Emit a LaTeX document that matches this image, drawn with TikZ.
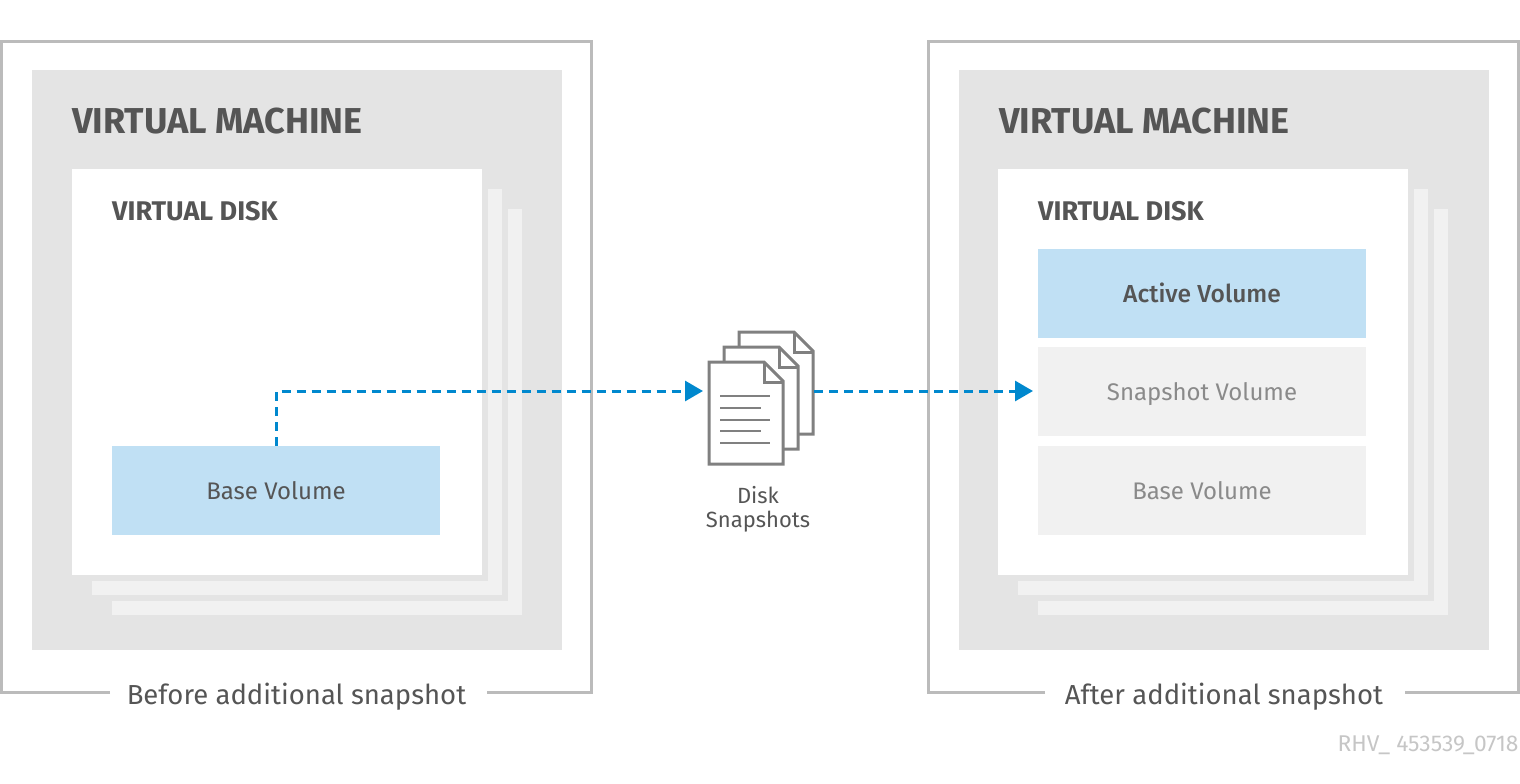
\documentclass[tikz,border=0pt]{standalone}
\usepackage{fontspec}
\setmainfont{Fira Sans}
\newfontfamily\mediumface{Fira Sans Medium}
\usetikzlibrary{arrows.meta}
\definecolor{framegray}{HTML}{BBBBBB}
\definecolor{vmgray}{HTML}{E4E4E4}
\definecolor{layergray}{HTML}{F1F1F1}
\definecolor{inkgray}{HTML}{555555}
\definecolor{fadedgray}{HTML}{8A8A8A}
\definecolor{icongray}{HTML}{808080}
\definecolor{stampgray}{HTML}{C6C6C6}
\definecolor{volblue}{HTML}{C0E0F4}
\definecolor{arrowblue}{HTML}{0088CE}
\begin{document}
\begin{tikzpicture}
[x=1pt,y=-1pt,
  framedecorate/.style={draw=framegray,line width=3pt},
  volumedecorate/.style={shape=rectangle,inner sep=0pt,outer sep=0pt,minimum width=328pt,minimum height=89pt,text height=18pt,text depth=0pt,text=inkgray,font=\fontsize{24}{28}\selectfont},
  activevolume/.style={volumedecorate,fill=volblue},
  oldvolume/.style={volumedecorate,fill=layergray,text=fadedgray},
  vmlabel/.style={anchor=west,inner sep=0pt,text=inkgray,font=\fontsize{36}{42}\selectfont\bfseries},
  disklabel/.style={anchor=west,inner sep=0pt,text=inkgray,font=\fontsize{27}{32}\selectfont\bfseries},
  captionlabel/.style={inner sep=0pt,text=inkgray,font=\fontsize{27.5}{32}\selectfont},
  icondecorate/.style={draw=icongray,line width=3pt,line join=miter},
  iconline/.style={draw=icongray,line width=2.2pt},
  arrowdecorate/.style={draw=arrowblue,line width=3pt,dash pattern=on 9pt off 6pt,shorten >=5pt,-{Triangle[length=18pt,width=20pt,sep=0pt]}}]
\useasboundingbox (0,0) rectangle (1520,784);
% left panel
\node (lcap) at (296.5,697) [captionlabel] {Before additional snapshot};
\draw[framedecorate] (110,692) -- (1.5,692) -- (1.5,42) -- (591.5,42) -- (591.5,692) -- (487,692);
\fill[vmgray] (32,70) rectangle (562,650);
\fill[layergray] (112,209) rectangle (522,615);
\fill[vmgray] (92,189) rectangle (508,601);
\fill[layergray] (92,189) rectangle (502,595);
\fill[vmgray] (72,169) rectangle (488,581);
\fill[white] (72,169) rectangle (482,575);
\node (lvm) at (72,121) [vmlabel] {VIRTUAL MACHINE};
\node (ldisk) at (112,211) [disklabel] {VIRTUAL DISK};
\node (lbase) at (276,490) [activevolume] {Base Volume};
% right panel
\node (rcap) at (1224,697) [captionlabel] {After additional snapshot};
\draw[framedecorate] (1045,692) -- (928.5,692) -- (928.5,42) -- (1518.5,42) -- (1518.5,692) -- (1405,692);
\fill[vmgray] (959,70) rectangle (1489,650);
\fill[layergray] (1038,209) rectangle (1448,615);
\fill[vmgray] (1018,189) rectangle (1434,601);
\fill[layergray] (1018,189) rectangle (1428,595);
\fill[vmgray] (998,169) rectangle (1414,581);
\fill[white] (998,169) rectangle (1408,575);
\node (rvm) at (999,121) [vmlabel] {VIRTUAL MACHINE};
\node (rdisk) at (1038,211) [disklabel] {VIRTUAL DISK};
\node (ractive) at (1202,293) [activevolume] {\mediumface\fontsize{24.6}{28}\selectfont Active Volume};
\node (rsnap) at (1202,391) [oldvolume] {Snapshot Volume};
\node (rbase) at (1202,490) [oldvolume] {Base Volume};
% snapshot icon
\node (docs) at (761,391) [inner sep=0pt,outer sep=0pt,minimum width=106pt,minimum height=10pt] {};
\draw[icondecorate] (739,346) -- (739,332) -- (794,332) -- (813,351) -- (813,434) -- (799,434);
\draw[icondecorate] (794,332) -- (794,352) -- (813,352);
\draw[icondecorate] (724,361) -- (724,347) -- (779,347) -- (798,366) -- (798,449) -- (784,449);
\draw[icondecorate] (779,347) -- (779,367) -- (798,367);
\draw[icondecorate] (709,362) -- (764,362) -- (783,381) -- (783,464) -- (709,464) -- cycle;
\draw[icondecorate] (764,362) -- (764,382) -- (783,382);
\draw[iconline] (720,396) -- (770,396);
\draw[iconline] (720,408) -- (761,408);
\draw[iconline] (720,420) -- (770,420);
\draw[iconline] (720,431) -- (761,431);
\draw[iconline] (720,443) -- (770,443);
\node (docname) at (758,509) [inner sep=0pt,align=center,text=inkgray,font=\fontsize{22}{24}\selectfont] {Disk\\Snapshots};
\node (stamp) at (1428,745) [inner sep=0pt,text=stampgray,font=\fontsize{22.8}{27}\selectfont] {RHV\_ 453539\_0718};
% edges or lines
\path[arrowdecorate] (lbase.north) |- (docs.west);
\path[arrowdecorate] (docs.east) -- (rsnap.west);
\end{tikzpicture}
\end{document}
